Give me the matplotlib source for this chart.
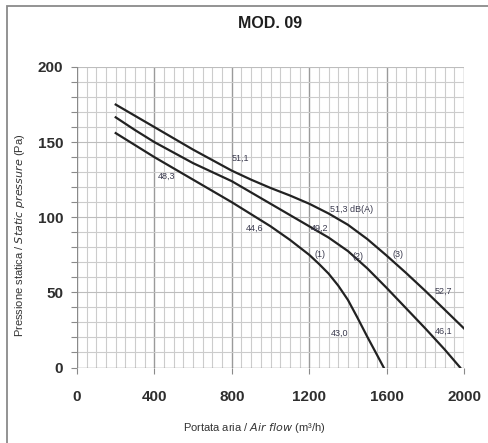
import numpy as np
import matplotlib.pyplot as plt
from matplotlib.patches import Rectangle

plt.rcParams['font.family'] = ['Liberation Sans', 'DejaVu Sans']

# curve data (air flow m3/h, static pressure Pa)
flow_1 = [200, 300, 400, 500, 600, 700, 800, 900, 1000, 1100, 1200, 1250, 1300, 1350, 1400, 1450, 1500, 1550, 1585]
pres_1 = [156, 148, 140, 132.5, 125, 117.5, 110, 102, 94, 85, 75, 69, 62.5, 54.5, 45, 33, 20.5, 8.5, 0]

flow_2 = [200, 300, 400, 500, 600, 700, 800, 900, 1000, 1100, 1200, 1300, 1400, 1500, 1600, 1700, 1800, 1900, 1980]
pres_2 = [166.5, 158, 150, 143, 136, 130, 124, 116.5, 109, 101.5, 94, 86.5, 77.5, 66, 53, 39.5, 26, 12, 0]

flow_3 = [200, 300, 400, 500, 600, 700, 800, 900, 1000, 1100, 1200, 1300, 1400, 1500, 1600, 1700, 1800, 1900, 2000]
pres_3 = [175, 167.5, 160, 152.5, 145, 138, 131, 125, 119.5, 114.5, 109, 102.5, 95, 85.5, 74.5, 63, 51, 38.5, 26]

# noise labels on the curves
lbl_text = ["51,1", "48,3", "44,6", "49,2", "51,3 dB(A)", "(1)", "(2)", "(3)", "52,7", "46,1", "43,0"]
lbl_x = [842, 463, 920, 1256, 1419, 1256, 1454, 1661, 1893, 1893, 1359]
lbl_y = [139, 127, 92.6, 92.6, 105.3, 74.9, 73.7, 74.9, 50.5, 23.8, 22.8]

x_ticks = [0, 400, 800, 1200, 1600, 2000]
y_ticks = [0, 50, 100, 150, 200]

fig = plt.figure(figsize=(4.88, 4.43), dpi=100)
fig.patch.set_facecolor("white")

# outer frame (only top and left edge visible)
fig.patches.append(Rectangle((7/488, -0.05), 1.1, 1 - 6/443 + 0.05, transform=fig.transFigure,
                             fill=False, edgecolor="#8a8a8a", linewidth=1.3))

ax = fig.add_axes([77/488, (443-367.5)/443, 387/488, 300.5/443])
ax.set_xlim(0, 2000)
ax.set_ylim(0, 200)

# grid
for gx in np.arange(50, 2001, 50):
    major = gx % 400 == 0
    ax.axvline(gx, color="#9a9a9a" if major else "#cccccc", lw=1.0 if major else 0.8, zorder=1)
for gy in np.arange(10, 201, 10):
    ax.axhline(gy, color="#bdbdbd" if gy % 50 == 0 else "#cccccc", lw=0.8, zorder=1)

for s in ax.spines.values():
    s.set_visible(False)
ax.axvline(0, color="#8a8a8a", lw=1.0, zorder=2)
ax.axhline(0, color="#8a8a8a", lw=1.0, zorder=2)

ax.plot(flow_1, pres_1, color="#222222", lw=1.6, zorder=3)
ax.plot(flow_2, pres_2, color="#222222", lw=1.6, zorder=3)
ax.plot(flow_3, pres_3, color="#222222", lw=1.6, zorder=3)

for t, lx, ly in zip(lbl_text, lbl_x, lbl_y):
    ax.text(lx, ly, t, fontsize=6.5, color="#3a3a4e", ha="center", va="center", zorder=4)

ax.set_xticks(x_ticks)
ax.set_yticks(y_ticks)
ax.set_yticks(np.arange(0, 201, 10), minor=True)
ax.set_xticklabels([str(v) for v in x_ticks], fontsize=11, fontweight="bold", color="#2e2e2e")
ax.set_yticklabels([str(v) for v in y_ticks], fontsize=11, fontweight="bold", color="#2e2e2e")
ax.tick_params(axis="both", which="both", length=4, color="#8a8a8a", width=0.8)
ax.tick_params(axis="x", pad=12)
ax.tick_params(axis="y", pad=6)

fig.text(270/488, 1 - 23/443, "MOD. 09", fontsize=11.5, fontweight="bold", ha="center", va="center", color="#1e1e1e")

fig.text(254/488, 1 - 428/443, "Portata aria / $\\it{Air\\ flow}$ (m³/h)", fontsize=8, ha="center", va="center", color="#333333")
fig.text(20/488, 1 - 235/443, "Pressione statica / $\\it{Static\\ pressure}$ (Pa)", fontsize=8, ha="center", va="center",
         rotation=90, color="#333333")

plt.savefig("out.png", dpi=100)
